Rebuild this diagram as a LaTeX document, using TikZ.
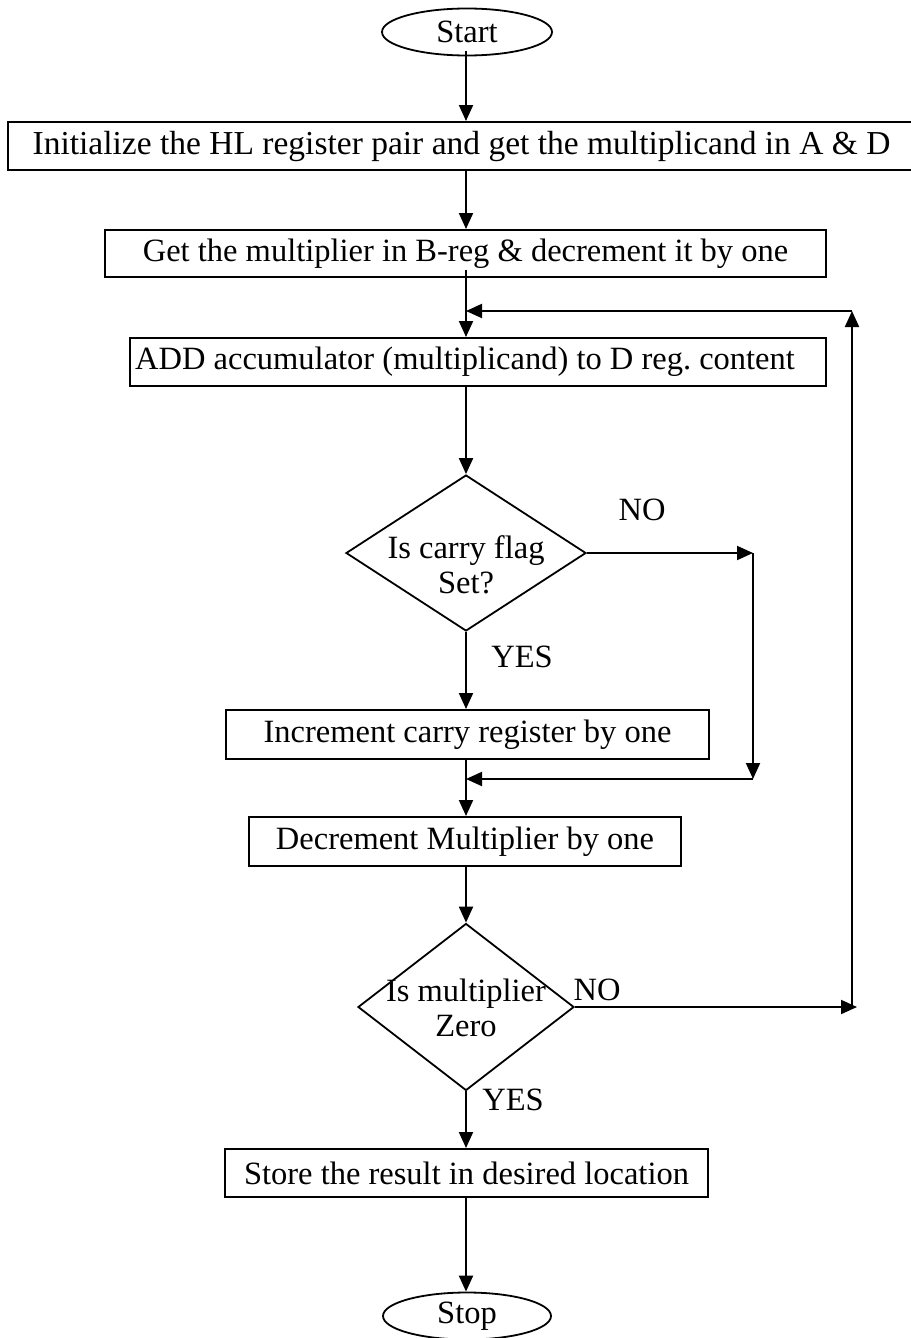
\documentclass[tikz,border=0pt]{standalone}
\usepackage{fontspec}
\setmainfont{Liberation Serif}
\usetikzlibrary{shapes.geometric,arrows.meta,calc}
\frenchspacing
\begin{document}
\begin{tikzpicture}[x=1pt,y=-1pt,
  every node/.style={font=\fontsize{32.5}{35}\selectfont, inner sep=0pt},
  flowbox/.style={draw, line width=2pt, rectangle, minimum height=48pt},
  terminal/.style={draw, line width=1.8pt, ellipse, minimum width=170pt, minimum height=47pt},
  decision/.style={draw, line width=1.8pt, diamond},
  txt/.style={align=center},
  flow/.style={line width=2pt, -{Triangle[length=16pt,width=14pt]}}]
\useasboundingbox (0,0) rectangle (910,1338);
\coordinate (spine) at (466,0);

% terminals and process boxes
\node[terminal] (start) at (467,32) {Start};
\node[flowbox, minimum width=907pt, font=\fontsize{33.5}{36}\selectfont] (init) at (461.5,146)
  {Initialize the HL register pair and get the multiplicand in A \& D};
\node[flowbox, minimum width=721pt, minimum height=47pt] (getmul) at (465.5,253.5)
  {Get the multiplier in B-reg \& decrement it by one};
\node[flowbox, minimum width=696pt] (addacc) at (478,362) {};
\node[txt] (addtxt) at (465,362) {ADD accumulator (multiplicand) to D reg. content};

% carry test
\node[decision, minimum width=240pt, minimum height=156pt] (carry) at (466,553) {};
\node[txt] (carrytxt) at (466,565) {Is carry flag\\Set?};
\node (no1) at (642,510) {NO};
\node (yes1) at (522,657) {YES};

\node[flowbox, minimum width=483pt, minimum height=49pt] (inccarry) at (467.5,734.5)
  {Increment carry register by one};
\node[flowbox, minimum width=432pt, minimum height=49pt] (decmul) at (465,841.5)
  {Decrement Multiplier by one};

% zero test
\node[decision, minimum width=216pt, minimum height=167pt] (zero) at (466,1007) {};
\node[txt] (zerotxt) at (466,1008) {Is multiplier\\Zero};
\node (no2) at (597,990) {NO};
\node (yes2) at (513,1100) {YES};

\node[flowbox, minimum width=483pt] (store) at (466.5,1173)
  {Store the result in desired location};
\node[terminal, minimum width=168pt] (stop) at (467,1316) {Stop};

% bend points of the side branches
\coordinate (skiptop) at (753,553);
\coordinate (skipbot) at (753,779);
\coordinate (loopbot) at (852,1007);
\coordinate (looptop) at (852,311);

% main line
\draw[flow] ($(start.south -| spine)+(0,-5)$) -- (init.north -| spine);
\draw[flow] (init.south -| spine) -- (getmul.north -| spine);
\draw[flow] ($(getmul.south -| spine)+(0,-8)$) -- (addacc.north -| spine);
\draw[flow] (addacc.south -| spine) -- (carry.north);
\draw[flow] (carry.south) -- (inccarry.north -| spine);
\draw[flow] (inccarry.south -| spine) -- (decmul.north -| spine);
\draw[flow] (decmul.south -| spine) -- (zero.north);
\draw[flow] (zero.south) -- (store.north -| spine);
\draw[flow] (store.south -| spine) -- (stop.north -| spine);

% carry not set: skip the increment
\draw[flow] (carry.east) -- (skiptop);
\draw[flow] (skiptop) -- (skipbot);
\draw[flow] (skipbot) -- (skipbot -| spine);

% multiplier not zero: loop back
\draw[flow] (zero.east) -- ($(loopbot)+(5,0)$);
\draw[flow] (loopbot) -- (looptop);
\draw[flow] (looptop) -- (looptop -| spine);
\end{tikzpicture}
\end{document}
